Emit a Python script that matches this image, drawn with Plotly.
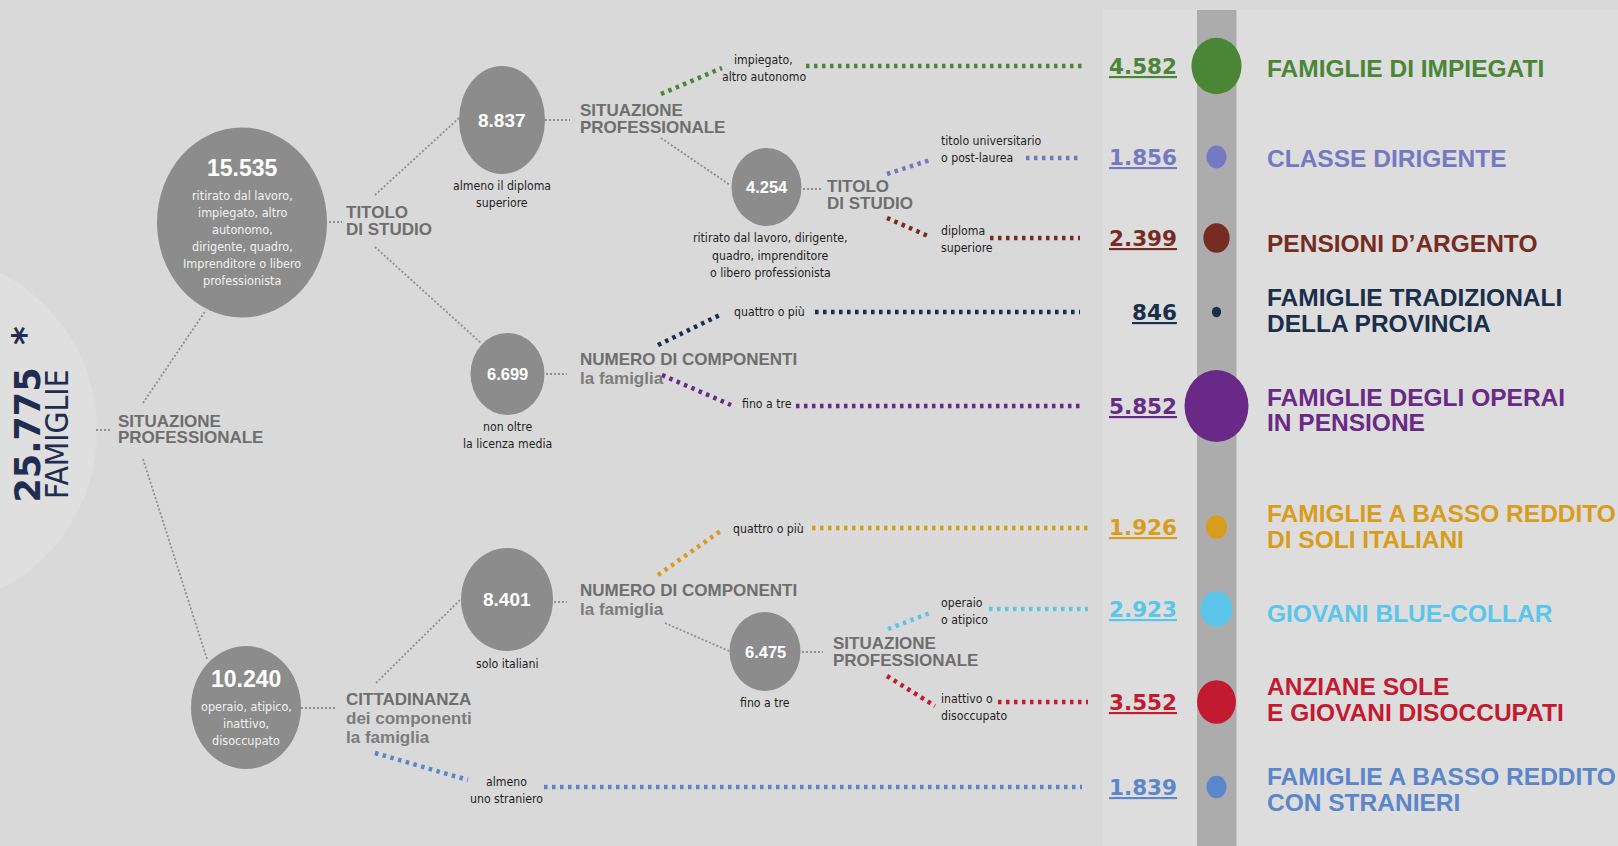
import plotly.graph_objects as go

W, H = 1618, 846

# ---------------- DATA ----------------
TOTAL = 25775
TOTAL_LABEL = "FAMIGLIE"

node_values = [15535, 10240, 8837, 6699, 4254, 8401, 6475]
node_desc = [
    ["ritirato dal lavoro,", "impiegato, altro", "autonomo,", "dirigente, quadro,", "Imprenditore o libero", "professionista"],
    ["operaio, atipico,", "inattivo,", "disoccupato"],
    ["almeno il diploma", "superiore"],
    ["non oltre", "la licenza media"],
    ["ritirato dal lavoro, dirigente,", "quadro, imprenditore", "o libero professionista"],
    ["solo italiani"],
    ["fino a tre"],
]

branch_labels = [
    [("SITUAZIONE", 0), ("PROFESSIONALE", 0)],
    [("TITOLO", 0), ("DI STUDIO", 0)],
    [("SITUAZIONE", 0), ("PROFESSIONALE", 0)],
    [("TITOLO", 0), ("DI STUDIO", 0)],
    [("NUMERO DI COMPONENTI", 0), ("la famiglia", 1)],
    [("NUMERO DI COMPONENTI", 0), ("la famiglia", 1)],
    [("SITUAZIONE", 0), ("PROFESSIONALE", 0)],
    [("CITTADINANZA", 0), ("dei componenti", 1), ("la famiglia", 1)],
]

leaf_labels = [
    ["impiegato,", "altro autonomo"],
    ["titolo universitario", "o post-laurea"],
    ["diploma", "superiore"],
    ["quattro o più"],
    ["fino a tre"],
    ["quattro o più"],
    ["operaio", "o atipico"],
    ["inattivo o", "disoccupato"],
    ["almeno", "uno straniero"],
]

segments = [
    ["FAMIGLIE DI IMPIEGATI"],
    ["CLASSE DIRIGENTE"],
    ["PENSIONI D’ARGENTO"],
    ["FAMIGLIE TRADIZIONALI", "DELLA PROVINCIA"],
    ["FAMIGLIE DEGLI OPERAI", "IN PENSIONE"],
    ["FAMIGLIE A BASSO REDDITO", "DI SOLI ITALIANI"],
    ["GIOVANI BLUE-COLLAR"],
    ["ANZIANE SOLE", "E GIOVANI DISOCCUPATI"],
    ["FAMIGLIE A BASSO REDDITO", "CON STRANIERI"],
]
seg_values = [4582, 1856, 2399, 846, 5852, 1926, 2923, 3552, 1839]
seg_colors = ["#4a8636", "#7579c2", "#772c23", "#1b2f4b", "#692a87",
              "#d89c1e", "#5bc5ea", "#c41a30", "#5b86cb"]

# ---------------- LAYOUT / STYLE ----------------
BG = "#d9d9d9"
PANEL = "#dddddd"
BAR = "#acacac"
NODE = "#8c8c8c"
LBL = "#6e6e6e"
LBL2 = "#7c7c7c"
DARK = "#1e1e1e"
NAVY = "#1f2d50"

F_B = "Liberation Sans, Arial, sans-serif"
F_W = "DejaVu Sans, Verdana, sans-serif"
F_S = "DejaVu Sans Condensed, DejaVu Sans, sans-serif"

# node geometry: cx, cy, rx, ry, value-y, value size, desc x, desc y0, desc step, desc size, desc color
node_geo = [
    (242, 222.5, 85, 95, 168, 23, 242, 195, 17.1, 12.5, "#f2f2f2"),
    (246, 707.5, 55, 61.5, 679, 23, 246, 706, 17, 12.5, "#f2f2f2"),
    (502, 120, 43, 54, 120, 19, 502, 186, 16.5, 12.2, DARK),
    (507.5, 374, 37, 41, 374, 16.5, 507, 427, 16.5, 12.2, DARK),
    (766.5, 187, 35, 39, 187, 16.5, 770, 238, 17.5, 12.2, DARK),
    (507, 599.5, 46, 51.5, 599.5, 19, 507, 664, 16.5, 12.2, DARK),
    (765, 651.5, 35.5, 39.5, 651.5, 16.5, 765, 703, 16.5, 12.2, DARK),
]

# branch label geometry: x, y0, step
branch_geo = [
    (116, 421, 16.5),
    (344, 212, 17),
    (578, 110, 17),
    (825, 186, 17),
    (578, 359, 19),
    (578, 590, 19),
    (831, 643, 17),
    (344, 699, 19),
]
BR_SIZE = 17

# leaf label geometry: x, anchor, y0, step
leaf_geo = [
    (763.5, "center", 60, 17),
    (939, "left", 141, 17),
    (939, "left", 231, 17),
    (732, "left", 312, 17),
    (740, "left", 404, 17),
    (731, "left", 529, 17),
    (939, "left", 603, 16.5),
    (939, "left", 699, 17),
    (506, "center", 782, 17),
]
LEAF_SIZE = 12.2

# gray connectors
gray_paths = [
    ([96, 112], [430, 430]),
    ([143, 206], [403, 310]),
    ([143, 207], [459, 659]),
    ([329, 342], [222, 222]),
    ([375, 459], [195, 118]),
    ([375, 481], [247, 343]),
    ([545, 570], [120, 120]),
    ([661, 730], [138, 185]),
    ([803, 821], [189, 189]),
    ([546, 567], [374, 374]),
    ([301, 337], [708, 708]),
    ([376, 460], [683, 600]),
    ([554, 567], [602, 602]),
    ([665, 729], [623, 651]),
    ([802, 823], [652, 652]),
]

# coloured connectors per segment: (diagonal), (horizontal)
col_paths = [
    (([661, 722], [94, 68]), ([806, 1082], [66, 66])),
    (([887, 930], [174, 160]), ([1026, 1082], [158, 158])),
    (([887, 928], [218, 236]), ([990, 1080], [238, 238])),
    (([658, 722], [345, 314]), ([815, 1080], [312, 312])),
    (([662, 731], [375, 405]), ([796, 1082], [406, 406])),
    (([658, 722], [575, 530]), ([812, 1088], [528, 528])),
    (([888, 930], [629, 613]), ([989, 1088], [609, 609])),
    (([887, 935], [676, 706]), ([998, 1088], [702, 702])),
    (([375, 468], [753, 780]), ([544, 1082], [787, 787])),
]

seg_y = [66, 157, 238, 312, 406, 527, 609, 702, 787]
seg_label_y = [[68], [158], [243], [297, 323], [397, 422], [513, 539], [613], [686, 712], [776, 802]]
SEG_CX = 1216.5
NUM_X = 1179
LAB_X = 1265
MAXV = max(seg_values)
RX_SCALE = 32 / MAXV
RY_SCALE = 36 / MAXV


def fmt(v):
    return f"{v:,}".replace(",", ".")


fig = go.Figure()
shapes = []
ann = []

# big pale circle on the left + right panel + bar
shapes.append(dict(type="circle", x0=-81 - 178, x1=-81 + 178, y0=431 - 178, y1=431 + 178,
                   fillcolor="#dfdfdf", line_width=0, layer="below"))
shapes.append(dict(type="rect", x0=1103, x1=W + 5, y0=10, y1=H + 5,
                   fillcolor=PANEL, line_width=0, layer="below"))
shapes.append(dict(type="rect", x0=1197, x1=1236.5, y0=10, y1=H + 5,
                   fillcolor=BAR, line_width=0, layer="below"))

# gray connectors
for xs, ys in gray_paths:
    fig.add_trace(go.Scatter(x=xs, y=ys, mode="lines", hoverinfo="skip",
                             line=dict(color="#8e8e8e", width=1.8, dash="2px,2px")))

# coloured connectors
for (d, h), c in zip(col_paths, seg_colors):
    for xs, ys in (d, h):
        fig.add_trace(go.Scatter(x=xs, y=ys, mode="lines", hoverinfo="skip",
                                 line=dict(color=c, width=4.5, dash="3.5px,4.5px")))


def add_lines(x, y0, step, lines, font, size, color, anchor="center"):
    for i, t in enumerate(lines):
        ann.append(dict(x=x, y=y0 + i * step, text=t, showarrow=False, xanchor=anchor,
                        yanchor="middle", font=dict(family=font, size=size, color=color)))


# tree nodes
for v, desc, g in zip(node_values, node_desc, node_geo):
    cx, cy, rx, ry, vy, vs, dx, dy, ds, dsz, dcol = g
    shapes.append(dict(type="circle", x0=cx - rx, x1=cx + rx, y0=cy - ry, y1=cy + ry,
                       fillcolor=NODE, line_width=0, layer="above"))
    ann.append(dict(x=cx, y=vy, text=f"<b>{fmt(v)}</b>", showarrow=False, xanchor="center",
                    yanchor="middle", font=dict(family=F_B, size=vs, color="white")))
    add_lines(dx, dy, ds, desc, F_S, dsz, dcol)

# branch labels
for lab, g in zip(branch_labels, branch_geo):
    x, y0, st = g
    for i, (t, lvl) in enumerate(lab):
        ann.append(dict(x=x, y=y0 + i * st, text=f"<b>{t}</b>", showarrow=False, xanchor="left",
                        yanchor="middle", font=dict(family=F_B, size=BR_SIZE, color=LBL if lvl == 0 else LBL2)))

# leaf labels
for lab, g in zip(leaf_labels, leaf_geo):
    x, anc, y0, st = g
    add_lines(x, y0, st, lab, F_S, LEAF_SIZE, DARK, anc)

# segments
for name, v, c, y, ly in zip(segments, seg_values, seg_colors, seg_y, seg_label_y):
    rx, ry = v * RX_SCALE, v * RY_SCALE
    shapes.append(dict(type="circle", x0=SEG_CX - rx, x1=SEG_CX + rx, y0=y - ry, y1=y + ry,
                       fillcolor=c, line_width=0, layer="above"))
    ann.append(dict(x=NUM_X, y=y, text=f"<b><u>{fmt(v)}</u></b>", showarrow=False, xanchor="right",
                    yanchor="middle", font=dict(family=F_W, size=21.5, color=c)))
    for t, yy in zip(name, ly):
        ann.append(dict(x=LAB_X, y=yy, text=f"<b>{t}</b>", showarrow=False, xanchor="left",
                        yanchor="middle", font=dict(family=F_B, size=24.5, color=c)))

# total (vertical)
ann.append(dict(x=27.5, y=435, text=f"<b>{fmt(TOTAL)}</b>", textangle=-90, showarrow=False,
                xanchor="center", yanchor="middle", font=dict(family=F_W, size=35, color=NAVY)))
ann.append(dict(x=24, y=336, text="<b>*</b>", textangle=-90, showarrow=False,
                xanchor="center", yanchor="middle", font=dict(family=F_W, size=36, color=NAVY)))
ann.append(dict(x=57, y=434, text=TOTAL_LABEL, textangle=-90, showarrow=False,
                xanchor="center", yanchor="middle", font=dict(family=F_S, size=31.5, color=NAVY)))

fig.update_layout(
    width=W, height=H, autosize=False,
    margin=dict(l=0, r=0, t=0, b=0, pad=0),
    paper_bgcolor=BG, plot_bgcolor=BG,
    showlegend=False,
    shapes=shapes, annotations=ann,
    xaxis=dict(range=[0, W], visible=False, fixedrange=True),
    yaxis=dict(range=[H, 0], visible=False, fixedrange=True),
)

fig.write_html("out.html", config={"displayModeBar": False},
               post_script="document.body.style.margin='0';document.body.style.overflow='hidden';")
